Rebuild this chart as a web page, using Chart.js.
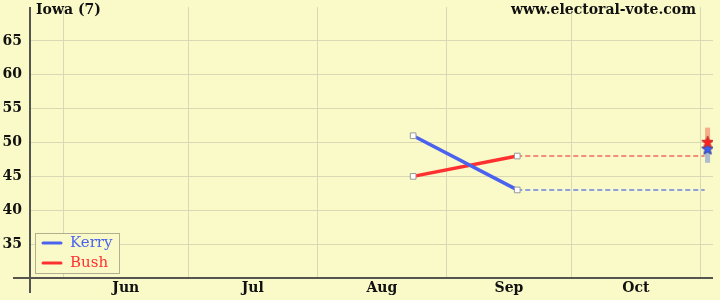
<!DOCTYPE html>
<html>
<head>
<meta charset="utf-8">
<script src="https://cdn.jsdelivr.net/npm/chart.js@4/dist/chart.umd.min.js"></script>
<style>
  html, body { margin: 0; padding: 0; background: #fafac8; }
  #wrap { width: 720px; height: 300px; }
</style>
</head>
<body>
<div id="wrap"><canvas id="chart" width="720" height="300"></canvas></div>
<script>
// Data (x = days after June 1, 2004)
const monthNames = ['Jun', 'Jul', 'Aug', 'Sep', 'Oct'];
const monthStarts = [0, 30, 61, 92, 122, 153];
const yTicks = [35, 40, 45, 50, 55, 60, 65];
const pollDays = [84, 109];
const kerryPoll = [51, 43];
const bushPoll = [45, 48];
const electionDay = 154;
const resultDay = 154.7;
const kerryResult = 49.1;
const bushResult = 50.1;
const bushRange = [50, 52.2];
const kerryRange = [47, 50];

const BG = '#fafac8';
const KERRY = '#4a62ee';
const BUSH = '#ff3030';
const SERIF = '"DejaVu Serif", serif';

// month midpoints for labels
const monthMids = monthNames.map((m, i) => (monthStarts[i] + monthStarts[i + 1]) / 2);
const xTickValues = monthStarts.concat(monthMids).sort((a, b) => a - b);

function pts(xs, ys) {
  return xs.map((x, i) => ({ x: x, y: ys[i] }));
}

// filled 5-point star marker
function makeStar(fill, stroke) {
  const c = document.createElement('canvas');
  c.width = 14; c.height = 14;
  const g = c.getContext('2d');
  g.beginPath();
  for (let i = 0; i < 10; i++) {
    const r = i % 2 === 0 ? 6.3 : 2.7;
    const a = -Math.PI / 2 + i * Math.PI / 5;
    const px = 7 + r * Math.cos(a), py = 7.5 + r * Math.sin(a);
    if (i === 0) g.moveTo(px, py); else g.lineTo(px, py);
  }
  g.closePath();
  g.fillStyle = fill;
  g.fill();
  g.lineWidth = 1;
  g.strokeStyle = stroke;
  g.stroke();
  return c;
}

const decorations = {
  id: 'decorations',
  beforeDraw(chart) {
    const ctx = chart.ctx;
    ctx.save();
    ctx.fillStyle = BG;
    ctx.fillRect(0, 0, chart.width, chart.height);
    ctx.restore();
  },
  afterDraw(chart) {
    const ctx = chart.ctx;
    const area = chart.chartArea;
    ctx.save();
    // axes
    ctx.strokeStyle = '#555550';
    ctx.lineWidth = 2;
    ctx.beginPath();
    ctx.moveTo(area.left, area.top);
    ctx.lineTo(area.left, 293);
    ctx.moveTo(13, area.bottom);
    ctx.lineTo(area.right, area.bottom);
    ctx.stroke();

    // titles
    ctx.fillStyle = '#111';
    ctx.font = 'bold 14px ' + SERIF;
    ctx.textBaseline = 'middle';
    ctx.textAlign = 'left';
    ctx.fillText('Iowa (7)', 36, 10);
    ctx.textAlign = 'right';
    ctx.fillText('www.electoral-vote.com', 696, 10);

    // legend
    ctx.fillStyle = BG;
    ctx.fillRect(35.5, 233.5, 84, 40);
    ctx.strokeStyle = '#b0b090';
    ctx.lineWidth = 1;
    ctx.strokeRect(35.5, 233.5, 84, 40);
    const items = [['Kerry', KERRY, 243], ['Bush', BUSH, 263]];
    ctx.font = '15px ' + SERIF;
    ctx.textAlign = 'left';
    items.forEach(([label, color, y]) => {
      ctx.strokeStyle = color;
      ctx.lineWidth = 3;
      ctx.lineCap = 'round';
      ctx.beginPath();
      ctx.moveTo(43, y);
      ctx.lineTo(61, y);
      ctx.stroke();
      ctx.fillStyle = color;
      ctx.fillText(label, 70, y);
    });
    ctx.restore();
  }
};

const squareMarker = {
  pointStyle: 'rect',
  pointRadius: 4,
  pointBackgroundColor: '#ffffff',
  pointBorderColor: '#999999',
  pointBorderWidth: 1
};

new Chart(document.getElementById('chart'), {
  type: 'line',
  data: {
    datasets: [
      {
        label: 'Bush result',
        data: [{ x: resultDay, y: bushResult }],
        showLine: false,
        pointStyle: makeStar('#ff2020', '#c03030'),
        pointRadius: 6
      },
      {
        label: 'Kerry result',
        data: [{ x: resultDay, y: kerryResult }],
        showLine: false,
        pointStyle: makeStar('#4060f0', '#2a3aa0'),
        pointRadius: 6
      },
      Object.assign({
        label: 'Kerry',
        data: pts(pollDays, kerryPoll),
        borderColor: KERRY,
        borderWidth: 3.5
      }, squareMarker),
      Object.assign({
        label: 'Bush',
        data: pts(pollDays, bushPoll),
        borderColor: BUSH,
        borderWidth: 3.5
      }, squareMarker),
      {
        label: 'Kerry trend',
        data: [{ x: pollDays[pollDays.length - 1], y: kerryPoll[kerryPoll.length - 1] }, { x: electionDay, y: kerryPoll[kerryPoll.length - 1] }],
        borderColor: 'rgba(80,110,235,0.85)',
        borderWidth: 1.5,
        borderDash: [5, 3],
        pointRadius: 0
      },
      {
        label: 'Bush trend',
        data: [{ x: pollDays[pollDays.length - 1], y: bushPoll[bushPoll.length - 1] }, { x: electionDay, y: bushPoll[bushPoll.length - 1] }],
        borderColor: 'rgba(240,80,80,0.85)',
        borderWidth: 1.5,
        borderDash: [5, 3],
        pointRadius: 0
      },
      {
        label: 'Bush range',
        data: pts([resultDay, resultDay], bushRange),
        borderColor: 'rgba(245,165,130,0.9)',
        borderWidth: 5,
        borderCapStyle: 'butt',
        pointRadius: 0
      },
      {
        label: 'Kerry range',
        data: pts([resultDay, resultDay], kerryRange),
        borderColor: 'rgba(170,185,205,0.95)',
        borderWidth: 5,
        borderCapStyle: 'butt',
        pointRadius: 0
      }
    ]
  },
  options: {
    responsive: false,
    animation: false,
    layout: { padding: { top: 5, right: 4, left: 0, bottom: 0 } },
    plugins: {
      legend: { display: false },
      tooltip: { enabled: false }
    },
    scales: {
      x: {
        type: 'linear',
        min: -8,
        max: 156,
        border: { display: false },
        afterBuildTicks(scale) {
          scale.ticks = xTickValues.map(v => ({ value: v }));
        },
        afterFit(scale) {
          scale.height = 22;
          scale.paddingLeft = 0;
          scale.paddingRight = 0;
        },
        grid: {
          drawTicks: false,
          color: ctx => (ctx.tick && monthStarts.includes(ctx.tick.value)) ? '#d8d8b4' : 'rgba(0,0,0,0)',
          lineWidth: 1
        },
        ticks: {
          autoSkip: false,
          maxRotation: 0,
          padding: 2,
          color: '#111',
          font: { family: SERIF, size: 14, weight: 'bold' },
          callback: value => {
            const i = monthMids.indexOf(value);
            return i >= 0 ? monthNames[i] : '';
          }
        }
      },
      y: {
        min: 30,
        max: 70,
        border: { display: false },
        afterBuildTicks(scale) {
          scale.ticks = yTicks.map(v => ({ value: v }));
        },
        afterFit(scale) {
          scale.width = 30;
          scale.paddingTop = 0;
          scale.paddingBottom = 0;
        },
        grid: {
          drawTicks: false,
          color: '#d8d8b4',
          lineWidth: 1
        },
        ticks: {
          padding: 8,
          color: '#111',
          font: { family: SERIF, size: 14, weight: 'bold' }
        }
      }
    }
  },
  plugins: [decorations]
});
</script>
</body>
</html>
